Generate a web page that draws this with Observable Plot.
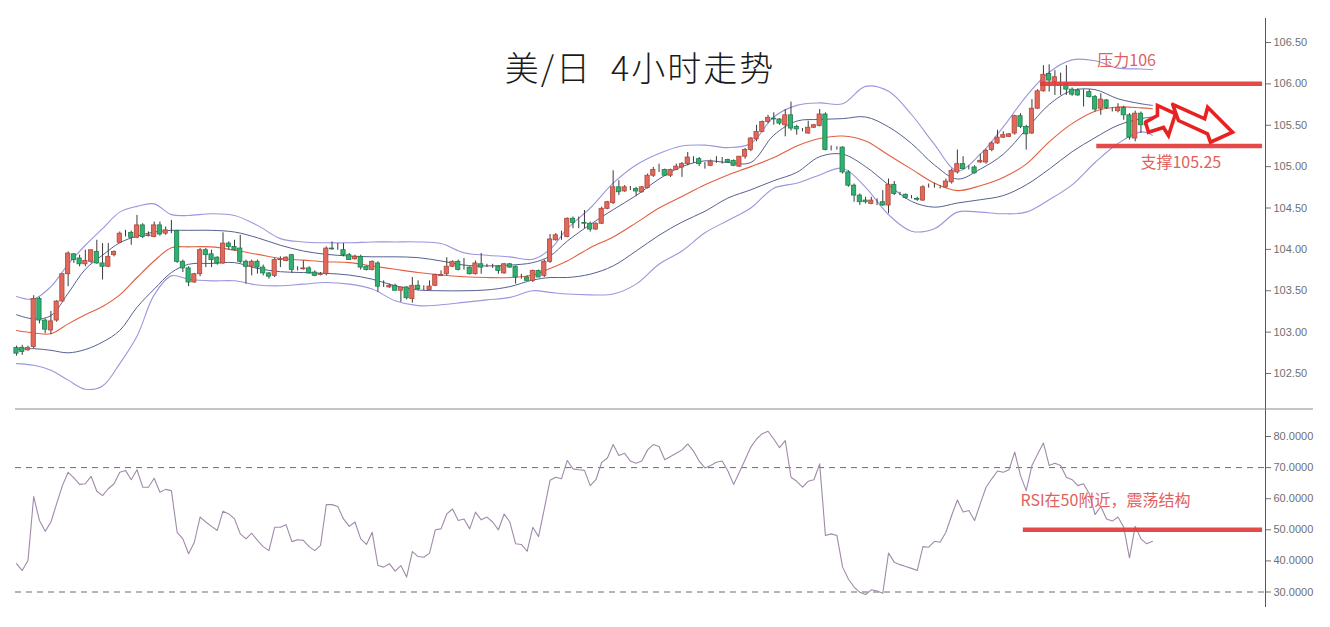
<!DOCTYPE html>
<html><head><meta charset="utf-8">
<script src="https://cdn.jsdelivr.net/npm/d3@7"></script>
<script src="https://cdn.jsdelivr.net/npm/@observablehq/plot@0.6"></script>
<style>
html,body{margin:0;padding:0;background:#fff;}
#wrap{position:relative;width:1330px;height:627px;overflow:hidden;}
#main{position:absolute;left:0;top:0;}
#rsi{position:absolute;left:0;top:410px;}
#title{position:absolute;left:0;width:1280px;top:48px;text-align:center;font-family:"Noto Sans CJK SC",sans-serif;font-weight:300;font-size:34px;color:#1a1a1a;letter-spacing:2px;line-height:1.1;white-space:pre;}
</style></head><body>
<div id="wrap"><div id="main"></div><div id="rsi"></div><div id="title">美/日  4小时走势</div></div>
<script>
// ---- candle data (4h USD/JPY) ----
const open = [102.81,102.81,102.78,102.82,103.40,103.14,103.02,103.14,103.37,103.70,
103.94,103.89,103.82,103.85,103.97,103.83,103.79,103.93,104.08,104.19,
104.20,104.14,104.29,104.16,104.15,104.29,104.19,104.21,104.22,103.85,
103.77,103.60,103.70,103.99,103.94,103.90,103.83,104.07,104.03,104.01,
103.85,103.79,103.85,103.78,103.71,103.68,103.87,103.86,103.93,103.76,
103.76,103.77,103.72,103.69,103.70,104.01,104.00,103.99,103.93,103.88,
103.91,103.79,103.75,103.83,103.55,103.54,103.56,103.50,103.54,103.40,
103.56,103.53,103.51,103.56,103.68,103.70,103.79,103.85,103.79,103.78,
103.70,103.82,103.79,103.79,103.79,103.71,103.82,103.79,103.66,103.66,
103.62,103.74,103.68,103.85,104.11,104.17,104.15,104.37,104.32,104.32,
104.31,104.24,104.31,104.49,104.56,104.75,104.70,104.73,104.73,104.69,
104.74,104.89,104.96,104.96,104.89,104.96,104.99,105.03,105.10,105.09,
105.03,105.01,105.07,105.07,105.08,105.07,105.00,105.12,105.20,105.33,
105.42,105.54,105.58,105.57,105.50,105.62,105.48,105.44,105.40,105.47,
105.49,105.63,105.22,105.22,105.23,104.93,104.77,104.65,104.59,104.55,
104.57,104.57,104.53,104.78,104.67,104.66,104.63,104.61,104.59,104.76,
104.76,104.75,104.75,104.81,104.93,105.03,104.98,104.99,105.05,105.05,
105.20,105.28,105.35,105.36,105.40,105.61,105.48,105.40,105.70,105.91,
106.12,106.02,106.02,106.00,105.93,105.92,105.90,105.90,105.84,105.70,
105.80,105.68,105.67,105.71,105.62,105.34,105.64,105.52,105.55];
const high = [102.83,102.84,102.83,103.44,103.42,103.16,103.25,103.38,103.70,103.97,
103.95,103.93,103.99,103.99,104.11,104.07,104.07,103.98,104.21,104.23,
104.22,104.41,104.31,104.21,104.33,104.33,104.27,104.35,104.23,103.87,
103.79,103.71,104.01,104.01,103.99,103.91,104.20,104.09,104.11,104.17,
103.87,103.87,103.87,103.81,103.72,103.89,103.91,103.91,103.94,103.79,
103.86,103.79,103.74,103.72,104.03,104.09,104.07,104.07,103.95,103.93,
103.93,103.80,103.86,103.85,103.62,103.58,103.58,103.54,103.55,103.66,
103.62,103.56,103.62,103.70,103.74,103.90,103.86,103.87,103.89,103.79,
103.86,103.95,103.82,103.82,103.80,103.83,103.83,103.80,103.70,103.68,
103.75,103.75,103.87,104.18,104.19,104.22,104.38,104.39,104.39,104.47,
104.33,104.32,104.51,104.58,104.95,104.83,104.77,104.76,104.75,104.76,
104.91,104.99,105.03,104.97,104.97,105.03,105.05,105.17,105.12,105.11,
105.05,105.08,105.12,105.11,105.09,105.08,105.12,105.22,105.35,105.50,
105.55,105.62,105.65,105.58,105.69,105.78,105.50,105.46,105.55,105.51,
105.69,105.65,105.25,105.24,105.24,104.95,104.79,104.67,104.63,104.63,
104.61,104.71,104.85,104.82,104.69,104.67,104.65,104.63,104.77,104.79,
104.80,104.77,104.85,104.97,105.20,105.12,105.01,105.01,105.15,105.21,
105.30,105.44,105.42,105.40,105.62,105.64,105.50,105.81,105.93,106.22,
106.23,106.16,106.13,106.22,105.95,105.94,105.93,105.93,105.86,105.88,
105.81,105.71,105.76,105.73,105.64,105.67,105.66,105.53,105.56];
const low = [102.71,102.72,102.77,102.80,103.10,102.98,102.97,103.12,103.36,103.55,
103.83,103.79,103.79,103.83,103.82,103.63,103.78,103.91,104.07,104.15,
104.05,104.13,104.13,104.15,104.14,104.16,104.17,104.19,103.83,103.72,
103.55,103.59,103.67,103.78,103.78,103.81,103.82,103.99,103.98,103.83,
103.58,103.68,103.70,103.68,103.64,103.66,103.78,103.85,103.71,103.74,
103.75,103.70,103.67,103.68,103.68,103.99,103.99,103.91,103.87,103.87,
103.75,103.74,103.74,103.48,103.54,103.53,103.50,103.36,103.39,103.35,
103.50,103.50,103.50,103.55,103.67,103.68,103.78,103.74,103.75,103.69,
103.69,103.70,103.78,103.77,103.70,103.70,103.77,103.58,103.64,103.62,
103.60,103.66,103.66,103.83,104.10,104.11,104.14,104.25,104.25,104.25,
104.21,104.23,104.30,104.48,104.54,104.65,104.69,104.71,104.64,104.68,
104.73,104.87,104.93,104.88,104.87,104.95,104.87,105.01,105.04,105.00,
104.97,105.00,105.04,105.03,105.04,105.00,104.99,105.09,105.18,105.30,
105.41,105.52,105.50,105.50,105.36,105.43,105.38,105.42,105.39,105.46,
105.48,105.19,105.19,105.20,104.91,104.75,104.57,104.53,104.55,104.54,
104.53,104.52,104.43,104.65,104.65,104.61,104.61,104.58,104.58,104.74,
104.74,104.73,104.74,104.79,104.91,104.96,104.96,104.91,105.04,105.03,
105.18,105.27,105.34,105.35,105.38,105.46,105.20,105.39,105.69,105.90,
105.90,105.86,105.86,105.86,105.85,105.85,105.72,105.83,105.66,105.62,
105.69,105.66,105.65,105.56,105.32,105.30,105.40,105.49,105.49];
const close = [102.74,102.76,102.81,103.40,103.14,103.03,103.13,103.37,103.70,103.95,
103.87,103.82,103.86,103.99,103.83,103.79,103.91,103.97,104.19,104.19,
104.14,104.29,104.15,104.17,104.29,104.18,104.23,104.21,103.85,103.77,
103.60,103.70,103.99,103.93,103.87,103.83,104.07,104.03,103.99,103.85,
103.79,103.85,103.78,103.71,103.67,103.87,103.88,103.90,103.75,103.76,
103.77,103.71,103.68,103.70,104.01,104.00,104.00,103.93,103.87,103.91,
103.78,103.75,103.85,103.55,103.55,103.56,103.50,103.54,103.41,103.56,
103.52,103.53,103.55,103.69,103.69,103.79,103.85,103.75,103.79,103.70,
103.83,103.78,103.79,103.79,103.74,103.82,103.78,103.66,103.66,103.62,
103.74,103.66,103.85,104.12,104.17,104.17,104.37,104.32,104.32,104.31,
104.24,104.31,104.49,104.57,104.75,104.69,104.75,104.73,104.70,104.75,
104.89,104.96,104.96,104.89,104.96,105.00,105.03,105.11,105.10,105.03,
105.03,105.06,105.07,105.07,105.05,105.01,105.12,105.20,105.34,105.42,
105.54,105.59,105.57,105.52,105.62,105.46,105.45,105.44,105.47,105.50,
105.63,105.20,105.22,105.22,104.93,104.77,104.65,104.57,104.57,104.59,
104.57,104.53,104.78,104.67,104.67,104.62,104.63,104.60,104.75,104.76,
104.76,104.75,104.82,104.95,105.03,104.97,104.98,104.92,105.07,105.19,
105.28,105.35,105.38,105.39,105.61,105.48,105.39,105.70,105.91,106.11,
106.04,106.08,106.02,105.93,105.87,105.86,105.90,105.84,105.69,105.81,
105.71,105.68,105.71,105.62,105.35,105.64,105.50,105.50,105.50];

// ---- Bollinger-style bands, read at sample candles ----
const bandIdx = [0,3,6,9,12,15,18,21,24,27,30,34,38,42,46,50,54,58,62,66,70,74,78,82,86,90,93,96,100,104,108,112,116,120,124,128,132,136,140,144,148,152,156,160,164,168,172,176,180,184,188,192,196,198];
const outerUpper = [103.43,103.40,103.55,103.82,104.05,104.25,104.45,104.52,104.55,104.42,104.41,104.43,104.41,104.29,104.13,104.09,104.08,104.08,104.09,104.09,104.09,104.07,103.96,103.93,103.91,103.88,104.00,104.25,104.50,104.80,105.02,105.16,105.25,105.26,105.23,105.28,105.60,105.74,105.77,105.76,105.97,105.91,105.63,105.27,104.95,105.15,105.48,105.85,106.14,106.29,106.28,106.19,106.18,106.17];
const innerUpper = [103.21,103.16,103.20,103.47,103.76,103.93,104.08,104.16,104.21,104.23,104.23,104.23,104.21,104.14,104.05,103.98,103.94,103.92,103.91,103.91,103.90,103.86,103.81,103.80,103.81,103.84,103.92,104.10,104.30,104.48,104.65,104.85,105.00,105.07,105.05,105.05,105.38,105.55,105.57,105.58,105.60,105.48,105.28,105.02,104.85,104.97,105.15,105.45,105.75,105.92,105.93,105.82,105.76,105.74];
const middle = [103.02,102.99,102.98,103.10,103.21,103.31,103.45,103.66,103.86,104.02,104.03,104.03,103.99,103.94,103.89,103.87,103.85,103.84,103.80,103.76,103.72,103.69,103.67,103.66,103.66,103.69,103.77,103.86,104.02,104.15,104.32,104.50,104.64,104.78,104.90,105.00,105.11,105.25,105.34,105.37,105.31,105.14,104.97,104.80,104.71,104.77,104.87,105.03,105.30,105.52,105.67,105.72,105.71,105.70];
const innerLower = [102.79,102.80,102.78,102.75,102.79,102.88,103.02,103.30,103.52,103.72,103.82,103.83,103.84,103.77,103.73,103.72,103.71,103.69,103.64,103.56,103.51,103.50,103.50,103.51,103.55,103.63,103.66,103.66,103.70,103.80,103.98,104.17,104.33,104.46,104.62,104.72,104.83,104.93,105.12,105.15,105.00,104.78,104.58,104.51,104.56,104.60,104.65,104.78,104.97,105.18,105.35,105.50,105.58,105.60];
const outerLower = [102.62,102.60,102.54,102.42,102.31,102.35,102.62,102.95,103.45,103.68,103.64,103.62,103.62,103.57,103.56,103.58,103.60,103.58,103.52,103.38,103.32,103.33,103.36,103.39,103.42,103.50,103.48,103.46,103.45,103.46,103.58,103.82,103.98,104.20,104.35,104.50,104.74,104.80,104.90,104.98,104.75,104.42,104.22,104.25,104.45,104.45,104.43,104.45,104.60,104.78,105.05,105.28,105.42,105.38];

// ---- RSI ----
const rsi = [39.1,36.9,40.1,60.7,53.0,49.5,52.5,58.4,64.2,68.5,
66.7,64.6,64.8,67.2,62.4,61.0,63.2,64.8,68.5,69.1,
66.1,69.3,63.7,63.7,66.6,62.1,63.0,62.6,49.2,47.1,
42.3,46.0,54.1,52.5,51.1,49.8,56.0,55.1,53.5,48.7,
47.1,48.9,46.6,44.6,43.3,50.8,50.8,51.6,46.2,46.8,
46.6,44.6,43.3,45.0,58.1,58.1,57.5,53.5,51.1,52.5,
47.1,45.3,49.2,38.5,38.0,39.1,36.7,38.5,34.8,43.0,
41.4,41.2,42.5,50.0,50.3,55.1,56.7,53.0,53.5,50.3,
55.7,53.2,54.1,52.5,50.0,55.1,52.5,45.5,45.3,43.1,
50.8,47.8,56.7,65.9,66.9,66.4,72.3,69.6,69.3,69.1,
64.2,66.1,71.7,73.1,77.4,73.9,74.6,72.1,71.4,72.1,
75.7,77.4,76.8,72.5,73.6,74.6,75.7,77.6,75.3,72.1,
69.9,70.7,71.7,72.1,68.9,64.6,68.5,72.5,76.6,79.2,
80.9,81.7,79.2,76.4,78.7,66.9,65.6,63.7,65.6,66.1,
71.2,48.2,48.7,48.2,38.0,34.2,31.6,29.9,29.2,30.7,
30.3,29.6,42.5,39.6,38.8,38.2,37.6,36.9,44.6,44.4,
46.3,46.0,49.2,54.6,59.6,55.7,56.2,53.0,58.4,63.7,
66.4,68.9,68.5,69.3,75.0,67.5,62.6,70.7,74.4,77.9,
70.7,71.4,70.7,66.9,66.1,64.2,64.8,61.6,54.9,57.5,
53.5,52.8,54.1,50.8,41.0,51.1,47.1,45.5,46.3];

// ---- ticks & annotations ----
const priceTicks = [102.5,103,103.5,104,104.5,105,105.5,106,106.5];
const rsiTicks = [30,40,50,60,70,80];
const rsiGuides = [70,30];
const resistance = {level:106.0, from:178.5, to:217.2, label:"压力106", lx:188.4, ly:106.28};
const support = {level:105.25, from:188.3, to:217.2, label:"支撑105.25", lx:195.9, ly:105.05};
const rsiMark = {level:50, from:175.5, to:217.2, label:"RSI在50附近，震荡结构", lx:175.0, ly:59.4};
const arrow1 = [[196.79,105.537],[198.88,105.618],[198.88,105.739],[202.02,105.638],[200.80,105.376],[199.93,105.473],[197.32,105.416]];
const arrow2 = [[201.53,105.751],[207.11,105.578],[207.63,105.718],[211.96,105.416],[208.12,105.295],[207.60,105.397],[202.54,105.557]];

// ---- build ----
const X0 = -0.174, X1 = 217.71, XSEP = 226.07;
const candles = d3.range(open.length).map(i => ({i, o:open[i], h:high[i], l:low[i], c:close[i]}));
const kind = d => d.c > d.o + 0.004 ? "up" : d.c < d.o - 0.004 ? "down" : "doji";
const fillOf = {up:"#e0695b", down:"#2fb171", doji:"#333"};
const strokeOf = {up:"#b2463a", down:"#1f7d4d", doji:"#333"};
const bandPts = arr => bandIdx.map((x,k) => ({x, y:arr[k]}));
const closed = a => a.concat([a[0]]).map(([x,y]) => ({x,y}));
const redLine = "#e23b3b", redText = "#e0625c";
const axisStyle = {fontFamily:"'Liberation Sans', Arial, sans-serif", fontSize:"11px", color:"#707070", background:"transparent", overflow:"visible"};

const main = Plot.plot({
  width:1330, height:410, marginLeft:15, marginRight:65, marginTop:18, marginBottom:0,
  style: axisStyle,
  x:{domain:[X0, X1], axis:null},
  y:{domain:[102.053, 106.790], axis:"right", ticks:priceTicks, tickFormat:d=>d.toFixed(2), tickSize:5, tickPadding:3, label:null},
  marks:[
    Plot.line(bandPts(outerUpper), {x:"x", y:"y", stroke:"#9a97dc", strokeWidth:1.1, curve:"catmull-rom"}),
    Plot.line(bandPts(outerLower), {x:"x", y:"y", stroke:"#9a97dc", strokeWidth:1.1, curve:"catmull-rom"}),
    Plot.line(bandPts(innerUpper), {x:"x", y:"y", stroke:"#56618f", strokeWidth:1, curve:"catmull-rom"}),
    Plot.line(bandPts(innerLower), {x:"x", y:"y", stroke:"#56618f", strokeWidth:1, curve:"catmull-rom"}),
    Plot.line(bandPts(middle), {x:"x", y:"y", stroke:"#e2603f", strokeWidth:1.1, curve:"catmull-rom"}),
    Plot.ruleX(candles, {x:"i", y1:"l", y2:"h", stroke:"#3a3a3a", strokeWidth:1}),
    Plot.rect(candles, {x1:d=>d.i-0.37, x2:d=>d.i+0.37, y1:d=>Math.min(d.o,d.c), y2:d=>Math.max(d.o,d.c),
      fill:d=>fillOf[kind(d)], stroke:d=>strokeOf[kind(d)], strokeWidth:0.8}),
    Plot.ruleY([resistance.level], {x1:resistance.from, x2:resistance.to, stroke:redLine, strokeWidth:4.5, strokeOpacity:0.92}),
    Plot.ruleY([support.level], {x1:support.from, x2:support.to, stroke:redLine, strokeWidth:4.5, strokeOpacity:0.92}),
    Plot.line(closed(arrow1), {x:"x", y:"y", stroke:"#e62222", strokeWidth:3.6, fill:"#fff", strokeLinejoin:"miter", strokeMiterlimit:4}),
    Plot.line(closed(arrow2), {x:"x", y:"y", stroke:"#e62222", strokeWidth:3.6, fill:"#fff", strokeLinejoin:"miter", strokeMiterlimit:4}),
    Plot.text([resistance, support], {x:"lx", y:"ly", text:"label", textAnchor:"start", fill:redText, fontSize:16, fontFamily:"'Noto Sans CJK SC', sans-serif"}),
    Plot.ruleX([X1], {stroke:"#555", strokeWidth:1}),
    Plot.ruleY([102.071], {x1:X0, x2:XSEP, stroke:"#8a8a8a", strokeWidth:1})
  ]
});
document.getElementById("main").appendChild(main);

const rsiPlot = Plot.plot({
  width:1330, height:217, marginLeft:15, marginRight:65, marginTop:0, marginBottom:20,
  style: axisStyle,
  x:{domain:[X0, X1], axis:null},
  y:{domain:[25.02, 88.36], axis:"right", ticks:rsiTicks, tickFormat:d=>d.toFixed(4), tickSize:5, tickPadding:3, label:null},
  marks:[
    Plot.ruleY(rsiGuides, {x1:X0, x2:X1, stroke:"#6d6d6d", strokeWidth:1, strokeDasharray:"6,5"}),
    Plot.line(rsi, {x:(d,i)=>i, y:d=>d, stroke:"#a08aaa", strokeWidth:1.1}),
    Plot.ruleY([rsiMark.level], {x1:rsiMark.from, x2:rsiMark.to, stroke:redLine, strokeWidth:4.5, strokeOpacity:0.92}),
    Plot.text([rsiMark], {x:"lx", y:"ly", text:"label", textAnchor:"start", fill:redText, fontSize:16, fontFamily:"'Noto Sans CJK SC', sans-serif"}),
    Plot.ruleX([X1], {stroke:"#555", strokeWidth:1})
  ]
});
document.getElementById("rsi").appendChild(rsiPlot);
</script>
</body></html>
